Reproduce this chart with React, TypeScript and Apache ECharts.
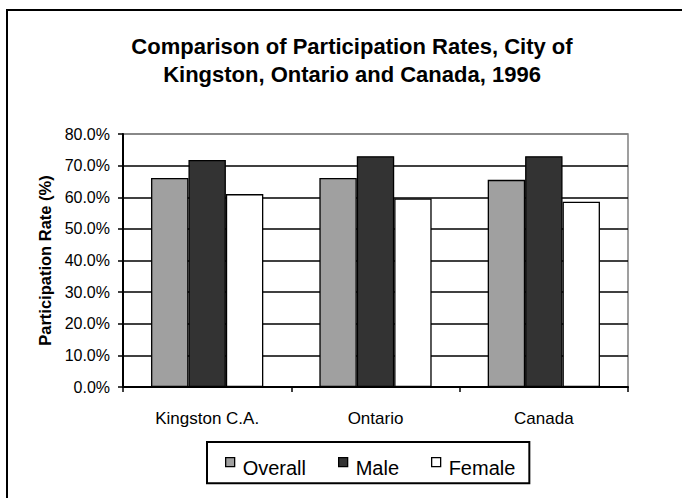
import React, { useEffect, useRef } from 'react';
import * as echarts from 'echarts';

const categories = ['Kingston C.A.', 'Ontario', 'Canada'];
const seriesNames = ['Overall', 'Male', 'Female'];
const overall = [66.1, 66.1, 65.5];
const male = [71.8, 73.0, 73.0];
const female = [61.0, 59.6, 58.6];
const yMin = 0;
const yMax = 80;
const yInterval = 10;

export default function App() {
  const ref = useRef<HTMLDivElement>(null);
  useEffect(() => {
    document.body.style.margin = '0';
    const chart = echarts.init(ref.current as HTMLDivElement, null, { renderer: 'svg' });
    const font = '"Liberation Sans", Arial, sans-serif';
    const colors = ['#a0a0a0', '#333333', '#ffffff'];
    const data = [overall, male, female];
    const splitColors: string[] = [];
    for (let v = yMin; v <= yMax; v += yInterval) splitColors.push(v === yMax ? '#808080' : '#000000');
    chart.setOption({
      animation: false,
      backgroundColor: '#ffffff',
      title: {
        text: 'Comparison of Participation Rates, City of\nKingston, Ontario and Canada, 1996',
        left: 347,
        textAlign: 'center',
        top: 27,
        textStyle: { fontFamily: font, fontSize: 22, fontWeight: 'bold', color: '#000', lineHeight: 28 },
      },
      legend: {
        data: seriesNames,
        left: 207,
        top: 442,
        orient: 'horizontal',
        itemWidth: 9,
        itemHeight: 21,
        itemGap: 32,
        padding: [15, 14, 4, 18],
        borderColor: '#000',
        borderWidth: 2,
        icon: 'path://M0 0H9V9H0Z M0 21L0 21',
        itemStyle: { borderColor: '#000', borderWidth: 1.3 },
        textStyle: { fontFamily: font, fontSize: 20, color: '#000', padding: [0, 0, 0, 3] },
      },
      grid: {
        left: 123,
        right: 54,
        top: 134,
        bottom: 111,
        show: true,
        borderColor: '#808080',
        borderWidth: 1.5,
        backgroundColor: '#ffffff',
        containLabel: false,
      },
      xAxis: {
        type: 'category',
        data: categories,
        axisLine: { show: true, lineStyle: { color: '#000', width: 2 } },
        axisTick: { show: true, length: 5, lineStyle: { color: '#000', width: 1.5 } },
        axisLabel: { fontFamily: font, fontSize: 17, color: '#000', margin: 23 },
      },
      yAxis: {
        type: 'value',
        min: yMin,
        max: yMax,
        interval: yInterval,
        name: 'Participation Rate (%)',
        nameLocation: 'middle',
        nameRotate: 90,
        nameGap: 66,
        nameTextStyle: { fontFamily: font, fontSize: 16.5, fontWeight: 'bold', color: '#000' },
        axisLine: { show: true, lineStyle: { color: '#000', width: 2 } },
        axisTick: { show: true, inside: false, length: 5, lineStyle: { color: '#000', width: 1.5 } },
        axisLabel: {
          fontFamily: font,
          fontSize: 16,
          color: '#000',
          margin: 13,
          formatter: (v: number) => v.toFixed(1) + '%',
        },
        splitLine: { show: true, lineStyle: { color: splitColors, width: 1.5 } },
      },
      series: seriesNames.map((name, i) => ({
        name,
        type: 'bar',
        data: data[i],
        barGap: '0%',
        barCategoryGap: '33.3%',
        itemStyle: { color: colors[i], borderColor: '#000', borderWidth: 1.3 },
      })),
      graphic: [
        {
          type: 'line',
          silent: true,
          z: 100,
          shape: { x1: 7, y1: 9, x2: 7, y2: 498 },
          style: { stroke: '#000', lineWidth: 2 },
        },
        {
          type: 'line',
          silent: true,
          z: 100,
          shape: { x1: 6, y1: 10, x2: 682, y2: 10 },
          style: { stroke: '#000', lineWidth: 2 },
        },
      ],
    });
    return () => chart.dispose();
  }, []);
  return <div ref={ref} style={{ position: 'fixed', left: 0, top: 0, width: 682, height: 498 }} />;
}
